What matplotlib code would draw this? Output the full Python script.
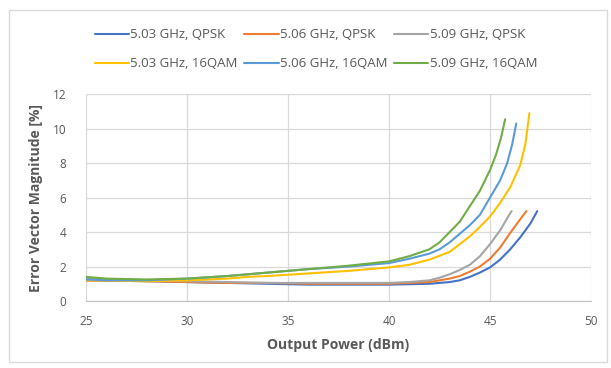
import matplotlib.pyplot as plt
from matplotlib.patches import Rectangle

# EVM vs output power
x_qpsk_503 = [25, 28, 30, 32, 34, 36, 38, 40, 42, 43, 43.5, 44, 44.5, 45, 45.5, 46, 46.5, 47, 47.34]
y_qpsk_503 = [1.2, 1.15, 1.1, 1.05, 1.0, 0.95, 0.95, 0.95, 1.0, 1.1, 1.2, 1.4, 1.65, 1.95, 2.4, 3.0, 3.7, 4.5, 5.22]

x_qpsk_506 = [25, 28, 30, 32, 34, 36, 38, 40, 41, 42, 43, 43.5, 44, 44.5, 45, 45.5, 46, 46.5, 46.8]
y_qpsk_506 = [1.2, 1.15, 1.1, 1.05, 1.05, 1.0, 1.0, 1.0, 1.05, 1.1, 1.3, 1.45, 1.7, 2.0, 2.45, 3.1, 3.95, 4.75, 5.22]

x_qpsk_509 = [25, 28, 30, 32, 34, 36, 38, 40, 41, 42, 42.5, 43, 43.5, 44, 44.5, 45, 45.5, 45.9, 46.07]
y_qpsk_509 = [1.3, 1.2, 1.15, 1.1, 1.05, 1.05, 1.05, 1.05, 1.1, 1.2, 1.35, 1.55, 1.8, 2.1, 2.6, 3.3, 4.1, 4.9, 5.22]

x_qam_503 = [25, 28, 30, 32, 33, 34, 36, 38, 40, 41, 42, 43, 43.5, 44, 44.5, 45, 45.5, 46, 46.5, 46.75, 46.95]
y_qam_503 = [1.2, 1.15, 1.2, 1.3, 1.4, 1.45, 1.6, 1.75, 1.95, 2.1, 2.4, 2.85, 3.3, 3.75, 4.3, 4.9, 5.7, 6.6, 7.9, 9.1, 10.9]

x_qam_506 = [25, 26, 28, 30, 32, 34, 36, 38, 40, 41, 42, 42.5, 43, 43.5, 44, 44.5, 45, 45.5, 45.85, 46.1, 46.3]
y_qam_506 = [1.25, 1.2, 1.2, 1.3, 1.45, 1.65, 1.85, 2.0, 2.2, 2.45, 2.75, 3.0, 3.4, 3.9, 4.4, 5.0, 6.0, 7.0, 8.0, 9.1, 10.3]

x_qam_509 = [25, 26, 28, 30, 32, 34, 36, 38, 40, 41, 42, 42.5, 43, 43.5, 44, 44.5, 45, 45.3, 45.55, 45.75]
y_qam_509 = [1.4, 1.3, 1.25, 1.3, 1.45, 1.65, 1.85, 2.05, 2.3, 2.6, 3.0, 3.4, 4.0, 4.6, 5.5, 6.4, 7.6, 8.5, 9.5, 10.55]

labels = ['5.03 GHz, QPSK', '5.06 GHz, QPSK', '5.09 GHz, QPSK',
          '5.03 GHz, 16QAM', '5.06 GHz, 16QAM', '5.09 GHz, 16QAM']
colors = ['#4472C4', '#ED7D31', '#A5A5A5', '#FFC000', '#5B9BD5', '#70AD47']
xs = [x_qpsk_503, x_qpsk_506, x_qpsk_509, x_qam_503, x_qam_506, x_qam_509]
ys = [y_qpsk_503, y_qpsk_506, y_qpsk_509, y_qam_503, y_qam_506, y_qam_509]

x_ticks = [25, 30, 35, 40, 45, 50]
y_ticks = [0, 2, 4, 6, 8, 10, 12]

plt.rcParams['font.family'] = ['Open Sans', 'DejaVu Sans']
txt = '#595959'

fig = plt.figure(figsize=(6.11, 3.68), dpi=100)
fig.patches.append(Rectangle((9 / 611, 1 - 362 / 368), 598 / 611, 352 / 368,
                             transform=fig.transFigure, fill=False,
                             edgecolor='#d9d9d9', linewidth=1))
ax = fig.add_axes([86 / 611, 1 - 301 / 368, 505 / 611, 206.7 / 368])

lines = []
for x, y, c, lab in zip(xs, ys, colors, labels):
    ln, = ax.plot(x, y, color=c, linewidth=1.5, label=lab, solid_capstyle='round')
    lines.append(ln)

ax.set_xlim(25, 50)
ax.set_ylim(0, 12)
ax.set_xticks(x_ticks)
ax.set_yticks(y_ticks)
ax.grid(True, color='#d9d9d9', linewidth=0.9)
ax.set_axisbelow(True)
for s in ['top', 'right', 'left']:
    ax.spines[s].set_visible(False)
ax.spines['bottom'].set_color('#bfbfbf')
ax.tick_params(length=0, colors=txt, labelsize=8.5)
ax.tick_params(axis='x', pad=10)
ax.tick_params(axis='y', pad=14)

ax.set_xlabel('Output Power (dBm)', fontsize=10, fontweight='bold', color=txt, labelpad=7)
ax.set_ylabel('Error Vector Magnitude [%]', fontsize=10, fontweight='bold', color=txt, labelpad=7)

# legend fills column by column, so reorder to get the row layout
order = [0, 3, 1, 4, 2, 5]
fig.legend([lines[i] for i in order], [labels[i] for i in order],
           loc='center', bbox_to_anchor=(0.517, 0.866), ncol=3, frameon=False,
           fontsize=9.5, labelcolor=txt, handlelength=2.6, handletextpad=0.1,
           columnspacing=0.5, borderpad=0, labelspacing=1.2)

fig.savefig('out.png', dpi=100)
